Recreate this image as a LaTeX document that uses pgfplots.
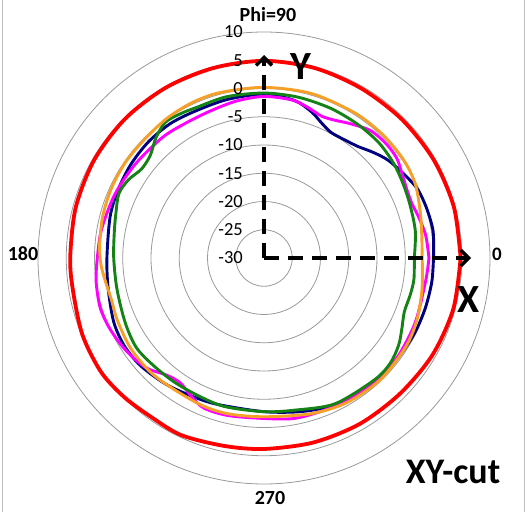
\documentclass[border=0pt]{standalone}
\usepackage{pgfplots}
\pgfplotsset{compat=1.18}
\usepackage{pgfplotstable}
\usepgfplotslibrary{polar}
\usetikzlibrary{arrows.meta}
\usepackage{fontspec}
\setmainfont{Carlito}
\definecolor{cred}{RGB}{255,0,0}
\definecolor{corange}{RGB}{247,160,40}
\definecolor{cgreen}{RGB}{20,130,20}
\definecolor{cnavy}{RGB}{0,0,128}
\definecolor{cmag}{RGB}{255,0,255}

\pgfplotstableread{
a d
0 4.8
15 4.8
30 4.7
45 4.6
60 4.6
75 4.8
90 4.9
105 4.8
120 4.8
135 4.8
150 4.7
165 4.5
180 4.3
190 4.3
203 4.9
215 5.2
225 4.9
235 4.5
245 4.6
258 4.0
270 3.8
285 3.8
300 3.9
315 4.0
330 4.4
345 4.7
360 4.8
}\redtab

\pgfplotstableread{
a d
0 -2.0
8 -1.8
16 -1.2
26 -0.2
35 0.2
46 0.3
58 0.3
74 0.3
90 0.2
105 0.3
115 0.3
125 0.1
135 -0.2
145 -0.2
155 -0.3
165 -0.5
175 -0.8
182 -1.1
188 -1.6
195 -2.0
203 -1.8
214 -1.5
225 -1.5
235 -1.8
247 -1.7
257 -1.7
270 -1.9
287 -1.2
300 -0.5
314 -0.2
328 -0.4
338 -0.8
349 -1.5
360 -2.0
}\orangetab

\pgfplotstableread{
a d
0 -3.4
10 -2.8
20 -2.5
28 -2.1
36 -1.6
45 -1.2
55 -1.1
66 -1.0
78 -0.9
90 -0.8
103 -0.7
114 -0.8
120 -0.5
126 -0.3
132 -1.4
138 -2.9
144 -3.2
150 -2.3
156 -1.9
163 -2.6
170 -3.1
180 -3.4
192 -3.4
205 -2.9
215 -2.4
224 -2.7
234 -2.9
244 -3.0
255 -2.8
270 -2.8
282 -2.5
296 -1.3
312 -0.9
320 -0.9
327 -1.6
333 -2.6
339 -3.4
346 -3.3
352 -3.2
360 -3.4
}\greentab

\pgfplotstableread{
a d
0 0.0
9 0.3
17 0.1
24 -0.2
30 -1.0
38 -2.0
44 -3.1
50 -4.2
56 -4.7
62 -4.8
67 -4.0
72 -2.8
79 -1.6
90 -1.0
103 -1.2
115 -1.3
125 -1.0
135 -1.0
145 -1.2
155 -1.5
165 -1.8
180 -2.2
191 -1.9
203 -1.1
212 -0.8
221 -1.0
232 -1.7
242 -2.4
252 -2.8
270 -2.8
284 -2.0
296 -1.1
307 -0.6
317 -0.5
326 -0.4
334 -0.2
343 -0.1
352 0.0
360 0.0
}\navytab

\pgfplotstableread{
a d
0 -0.8
8 -1.1
15 -1.7
20 -2.1
25 -2.0
32 -1.3
37 -0.6
43 -0.4
50 -0.6
57 -1.7
63 -2.6
68 -2.9
74 -2.2
80 -1.6
90 -1.4
100 -1.8
110 -2.3
120 -2.4
130 -2.1
144 -1.8
157 -1.3
170 -0.8
180 -0.5
188 0.0
197 0.3
205 0.0
214 -0.6
223 -1.5
230 -3.0
236 -3.4
242 -2.4
248 -1.4
257 -1.4
270 -1.6
281 -1.1
293 -1.0
304 -0.9
314 -0.6
324 -0.6
337 -0.9
352 -1.1
360 -0.8
}\magtab

\begin{document}
\begin{tikzpicture}
\begin{polaraxis}[
  at={(0pt,0pt)}, anchor=center,
  scale only axis, width=452pt, height=452pt,
  ymin=0, ymax=40,
  xtick={0,90,180,270}, xticklabels={},
  ytick={5,10,...,35}, yticklabels={},
  xmajorgrids=false, ymajorgrids=true,
  major grid style={gray!80, line width=0.8pt},
  axis line style={gray!80, line width=0.8pt},
  y axis line style={draw=none},
  major tick length=0pt,
  clip=false,
]
\coordinate (O) at (axis cs:0,0);
\addplot[no markers, smooth, line width=2.9pt, color=cnavy] table[x=a, y expr=\thisrow{d}+30] {\navytab};
\addplot[no markers, smooth, line width=2.9pt, color=cmag] table[x=a, y expr=\thisrow{d}+30] {\magtab};
\addplot[no markers, smooth, line width=2.9pt, color=cgreen] table[x=a, y expr=\thisrow{d}+30] {\greentab};
\addplot[no markers, smooth, line width=2.9pt, color=corange] table[x=a, y expr=\thisrow{d}+30] {\orangetab};
\addplot[no markers, smooth, line width=3.8pt, color=cred] table[x=a, y expr=\thisrow{d}+30] {\redtab};
\end{polaraxis}
\begin{scope}[shift={(O)}]
  \draw[line width=3.5pt, dash pattern=on 15pt off 9pt, -{Straight Barb[length=8pt,width=16pt]}] (0pt,0pt) -- (0pt,203pt);
  \draw[line width=3.5pt, dash pattern=on 15pt off 9pt, -{Straight Barb[length=8pt,width=16pt]}] (0pt,0pt) -- (207pt,0pt);
  \foreach \k/\t in {0/-30,1/-25,2/-20,3/-15,4/-10,5/-5,6/0,7/5,8/10}{
    \node[anchor=east, inner sep=0pt, font=\fontsize{18.5}{20}\selectfont] at (-21pt,{28.25*\k pt}) {\t};
  }
  \node[font=\fontsize{20}{22}\selectfont\bfseries, inner sep=0pt] at (4pt,243pt) {Phi=90};
  \node[font=\fontsize{20}{22}\selectfont\bfseries, inner sep=0pt] at (-241pt,4pt) {180};
  \node[font=\fontsize{19}{22}\selectfont\bfseries, inner sep=0pt] at (233pt,4pt) {0};
  \node[font=\fontsize{20}{22}\selectfont\bfseries, inner sep=0pt] at (6pt,-240pt) {270};
  \node[font=\fontsize{36}{40}\selectfont\bfseries, inner sep=0pt] at (189pt,-214pt) {XY-cut};
  \node[font=\fontsize{40}{44}\selectfont\bfseries, inner sep=0pt] at (205pt,-42pt) {X};
  \node[font=\fontsize{40}{44}\selectfont\bfseries, inner sep=0pt] at (37pt,191pt) {Y};
  \draw[gray!50, line width=0.8pt] (-262pt,-254pt) -- (-262pt,258pt);
  \draw[gray!50, line width=0.8pt] (260pt,-254pt) -- (260pt,258pt);
\end{scope}
\pgfresetboundingbox
\path[use as bounding box, shift={(O)}] (-264pt,-254pt) rectangle (263pt,258pt);
\end{tikzpicture}
\end{document}
